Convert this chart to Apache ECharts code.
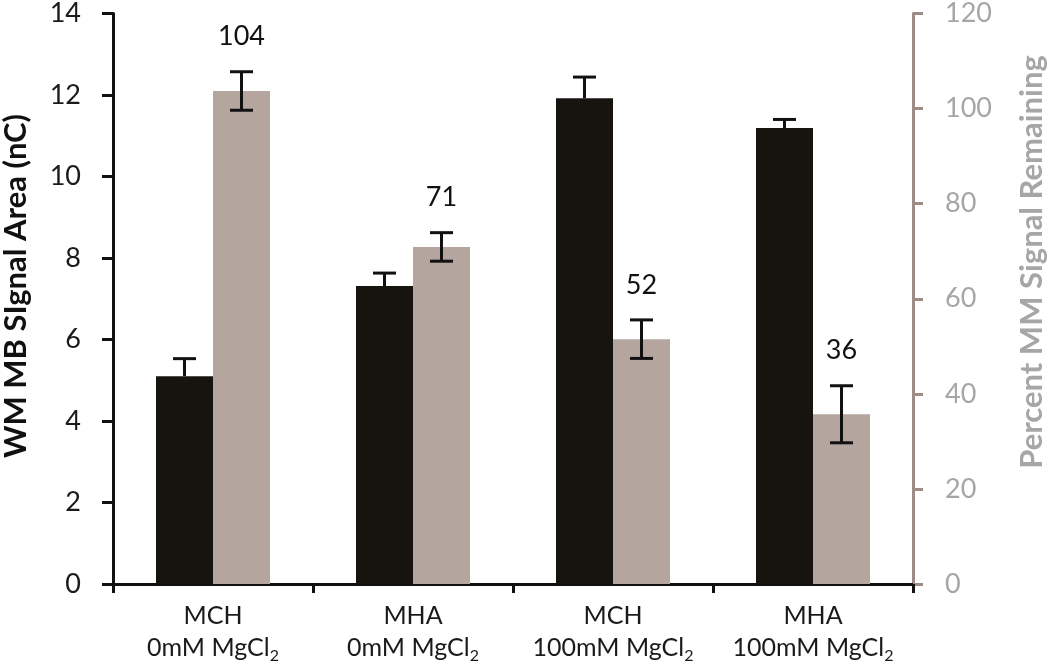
<!DOCTYPE html>
<html>
<head>
<meta charset="utf-8">
<script src="https://cdn.jsdelivr.net/npm/echarts@6/dist/echarts.min.js"></script>
<style>
html,body{margin:0;padding:0;background:#fff;}
#chart{width:1050px;height:665px;}
</style>
</head>
<body>
<div id="chart"></div>
<script>
// ---- data ----
const categories = ['MCH\n0mM MgCl2', 'MHA\n0mM MgCl2', 'MCH\n100mM MgCl2', 'MHA\n100mM MgCl2'];
const wmSignal = [5.10, 7.31, 11.92, 11.19];          // left axis (nC)
const wmSignalErr = [0.43, 0.32, 0.52, 0.21];
const mmRemaining = [103.7, 70.9, 51.5, 35.7];        // right axis (%)
const mmRemainingErr = [4.05, 3.0, 4.05, 6.0];
const mmLabels = ['104', '71', '52', '36'];
const leftTicks = {min: 0, max: 14, interval: 2};
const rightTicks = {min: 0, max: 120, interval: 20};

const FONT = 'Lato';
const BAR_FRAC = 0.285;
const BLACK = '#17140f';
const TAUPE = '#b4a59f';
const RAXIS = '#9d8b85';
const RLABEL = '#a6a6a6';

const chart = echarts.init(document.getElementById('chart'), null, {renderer: 'canvas'});

function errItem(side, withLabel, lowerCap) {
  return function (params, api) {
    const idx = api.value(0);
    const lo = api.value(1), hi = api.value(2);
    const band = api.size([1, 0])[0];
    const bw = band * BAR_FRAC;
    const center = api.coord([idx, 0])[0];
    const x = center + side * bw / 2;
    const pHi = api.coord([idx, hi])[1];
    const pLo = api.coord([idx, lo])[1];
    const cap = 11.5;
    const st = {stroke: '#111', lineWidth: 3};
    const children = [
      {type: 'line', shape: {x1: x, y1: pHi, x2: x, y2: pLo}, style: st},
      {type: 'line', shape: {x1: x - cap, y1: pHi, x2: x + cap, y2: pHi}, style: st}
    ];
    if (lowerCap) {
      children.push({type: 'line', shape: {x1: x - cap, y1: pLo, x2: x + cap, y2: pLo}, style: st});
    }
    if (withLabel) {
      children.push({
        type: 'text',
        style: {
          text: mmLabels[params.dataIndex], x: x, y: pHi - 35,
          align: 'center', verticalAlign: 'middle',
          fontSize: 27, fontFamily: FONT, fill: '#111'
        }
      });
    }
    return {type: 'group', children: children};
  };
}

const option = {
  animation: false,
  backgroundColor: '#fff',
  grid: {left: 113, right: 137, top: 13, bottom: 81},
  xAxis: {
    type: 'category',
    data: categories,
    boundaryGap: true,
    axisLine: {lineStyle: {color: '#111', width: 3}},
    axisTick: {show: true, length: 9, alignWithLabel: false, lineStyle: {color: '#111', width: 3}},
    axisLabel: {
      interval: 0,
      margin: 16,
      formatter: function (v) {
        const lines = v.split('\n');
        const second = lines[1].replace(/2$/, '');
        return '{t|' + lines[0] + '}\n{t|' + second + '}{s|2}';
      },
      rich: {
        t: {fontSize: 25, lineHeight: 32, fontFamily: FONT, color: '#1a1a1a'},
        s: {fontSize: 16, lineHeight: 16, fontFamily: FONT, color: '#1a1a1a', verticalAlign: 'bottom'}
      }
    }
  },
  yAxis: [
    {
      type: 'value',
      min: leftTicks.min, max: leftTicks.max, interval: leftTicks.interval,
      position: 'left',
      splitLine: {show: false},
      axisLine: {show: true, lineStyle: {color: '#111', width: 3}},
      axisTick: {show: true, length: 11, lineStyle: {color: '#111', width: 3}},
      axisLabel: {fontSize: 27, fontFamily: FONT, color: '#1a1a1a', margin: 32}
    },
    {
      type: 'value',
      min: rightTicks.min, max: rightTicks.max, interval: rightTicks.interval,
      position: 'right',
      splitLine: {show: false},
      axisLine: {show: true, lineStyle: {color: RAXIS, width: 3}},
      axisTick: {show: true, length: 10, lineStyle: {color: RAXIS, width: 3}},
      axisLabel: {fontSize: 27, fontFamily: FONT, color: RLABEL, margin: 32}
    }
  ],
  graphic: [
    {
      type: 'text', x: 16, y: 286, rotation: Math.PI / 2,
      style: {text: 'WM MB SIgnal Area (nC)', align: 'center', verticalAlign: 'middle',
        fontSize: 31, fontWeight: 'bold', fontFamily: FONT, fill: '#111'}
    },
    {
      type: 'text', x: 1032, y: 262, rotation: Math.PI / 2,
      style: {text: 'Percent MM Signal Remaining', align: 'center', verticalAlign: 'middle',
        fontSize: 31, fontWeight: 'bold', fontFamily: FONT, fill: RLABEL}
    }
  ],
  series: [
    {
      type: 'bar', name: 'WM MB', yAxisIndex: 0,
      data: wmSignal, barWidth: (BAR_FRAC * 100) + '%', barGap: '0%',
      itemStyle: {color: BLACK}
    },
    {
      type: 'bar', name: 'MM remaining', yAxisIndex: 1,
      data: mmRemaining, barWidth: (BAR_FRAC * 100) + '%', barGap: '0%',
      itemStyle: {color: TAUPE}
    },
    {
      type: 'custom', yAxisIndex: 0, z: 10,
      renderItem: errItem(-1, false, false),
      data: wmSignal.map((v, i) => [i, v, v + wmSignalErr[i]])
    },
    {
      type: 'custom', yAxisIndex: 1, z: 10,
      renderItem: errItem(1, true, true),
      data: mmRemaining.map((v, i) => [i, v - mmRemainingErr[i], v + mmRemainingErr[i]])
    }
  ]
};
chart.setOption(option);
</script>
</body>
</html>
